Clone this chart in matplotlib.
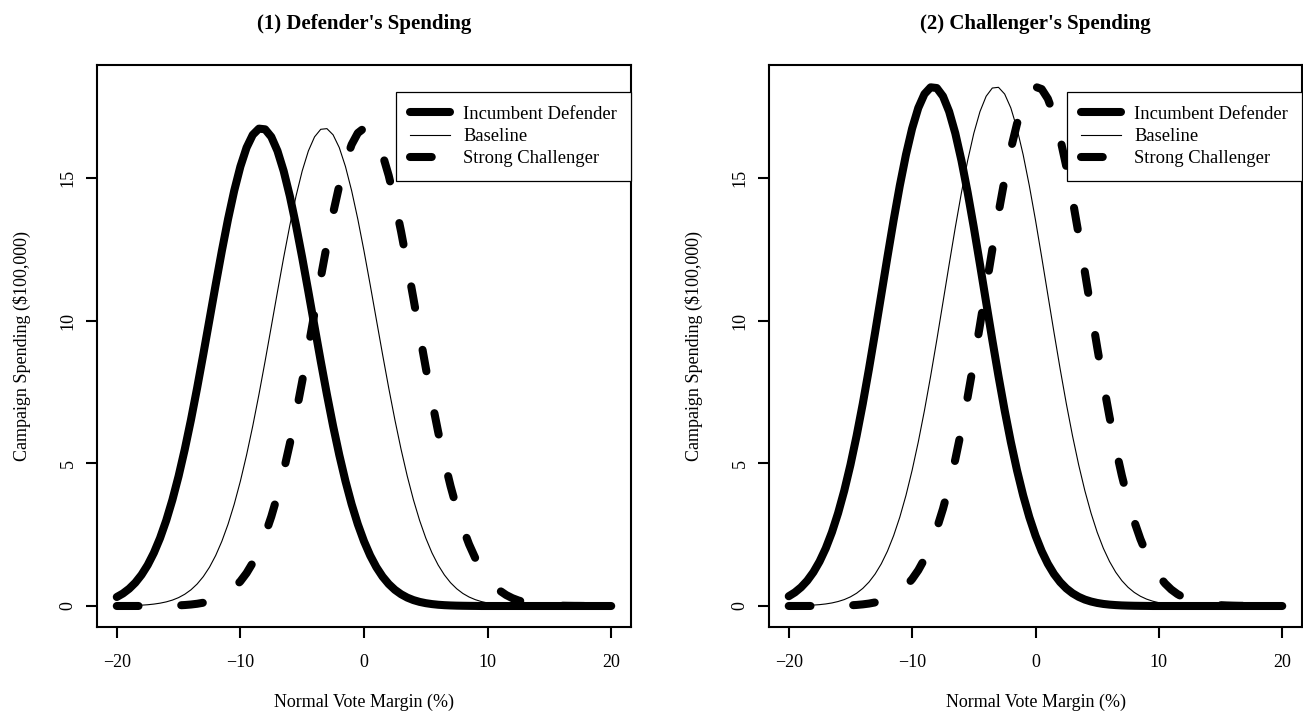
import matplotlib
matplotlib.use("Agg")
import matplotlib.pyplot as plt

plt.rcParams['font.family'] = ['Liberation Serif', 'DejaVu Serif']

# ---- data, x from -20 to 20 in steps of 0.5 ----
margin = [i / 2 for i in range(-40, 41)]

p1_incumbent = [0.315, 0.439, 0.604, 0.817, 1.091, 1.435, 1.861, 2.379, 2.997, 3.720,
                4.551, 5.489, 6.522, 7.641, 8.822, 10.038, 11.258, 12.443, 13.556, 14.554,
                15.402, 16.065, 16.513, 16.730, 16.706, 16.442, 15.948, 15.246, 14.365, 13.340,
                12.211, 11.015, 9.794, 8.581, 7.412, 6.308, 5.293, 4.377, 3.566, 2.864,
                2.268, 1.769, 1.360, 1.031, 0.770, 0.567, 0.412, 0.294, 0.207, 0.144,
                0.099, 0.067, 0.044, 0.029, 0.019, 0.012, 0.008, 0.005, 0.003,
                0, 0, 0, 0, 0, 0, 0, 0, 0, 0, 0, 0, 0, 0, 0, 0, 0, 0, 0, 0, 0, 0]
p1_baseline = [0.005, 0.007, 0.012, 0.019, 0.029, 0.044, 0.067, 0.099, 0.144, 0.207,
               0.294, 0.412, 0.567, 0.770, 1.031, 1.360, 1.769, 2.268, 2.864, 3.566,
               4.377, 5.293, 6.308, 7.412, 8.581, 9.794, 11.015, 12.211, 13.340, 14.365,
               15.246, 15.948, 16.442, 16.706, 16.730, 16.513, 16.065, 15.402, 14.554, 13.556,
               12.443, 11.258, 10.038, 8.822, 7.641, 6.522, 5.489, 4.551, 3.720, 2.997,
               2.379, 1.861, 1.435, 1.091, 0.817, 0.604, 0.439, 0.315, 0.223, 0.155,
               0.106, 0.072, 0.048, 0.032, 0.020, 0.013, 0.008, 0.005, 0.003,
               0, 0, 0, 0, 0, 0, 0, 0, 0, 0, 0, 0]
p1_challenger = [0.0001, 0.0002, 0.0004, 0.0007, 0.0012, 0.002, 0.0035, 0.006, 0.009, 0.014,
                 0.022, 0.034, 0.052, 0.078, 0.115, 0.167, 0.239, 0.337, 0.468, 0.642,
                 0.867, 1.154, 1.514, 1.956, 2.494, 3.132, 3.877, 4.730, 5.688, 6.740,
                 7.873, 9.063, 10.283, 11.499, 12.673, 13.765, 14.737, 15.551, 16.172, 16.576,
                 16.745, 16.672, 16.361, 15.824, 15.083, 14.171, 13.122, 11.975, 10.772, 9.549,
                 8.343, 7.186, 6.099, 5.100, 4.206, 3.417, 2.737, 2.161, 1.680, 1.288,
                 0.973, 0.725, 0.532, 0.385, 0.275, 0.193, 0.134, 0.091, 0.061, 0.041,
                 0.027, 0.017, 0.011, 0.007, 0.004, 0.003, 0, 0, 0, 0, 0]

p2_incumbent = [0.342, 0.477, 0.656, 0.888, 1.185, 1.560, 2.022, 2.584, 3.256, 4.042,
                4.945, 5.964, 7.087, 8.303, 9.586, 10.907, 12.232, 13.521, 14.729, 15.814,
                16.735, 17.456, 17.943, 18.178, 18.153, 17.865, 17.328, 16.566, 15.608, 14.494,
                13.268, 11.968, 10.642, 9.324, 8.054, 6.854, 5.751, 4.756, 3.875, 3.112,
                2.464, 1.922, 1.478, 1.120, 0.837, 0.616, 0.447, 0.320, 0.225, 0.157,
                0.107, 0.072, 0.048, 0.032, 0.020, 0.013, 0.008, 0.005, 0.003,
                0, 0, 0, 0, 0, 0, 0, 0, 0, 0, 0, 0, 0, 0, 0, 0, 0, 0, 0, 0, 0, 0]
p2_baseline = [0.005, 0.008, 0.013, 0.020, 0.032, 0.048, 0.072, 0.107, 0.157, 0.225,
               0.320, 0.447, 0.616, 0.837, 1.120, 1.478, 1.922, 2.464, 3.112, 3.875,
               4.756, 5.751, 6.854, 8.054, 9.324, 10.642, 11.968, 13.268, 14.494, 15.608,
               16.566, 17.328, 17.865, 18.153, 18.178, 17.943, 17.456, 16.735, 15.814, 14.729,
               13.521, 12.232, 10.907, 9.586, 8.303, 7.087, 5.964, 4.945, 4.042, 3.256,
               2.584, 2.022, 1.560, 1.185, 0.888, 0.656, 0.477, 0.342, 0.242, 0.169,
               0.116, 0.078, 0.052, 0.034, 0.022, 0.014, 0.009, 0.006, 0.003,
               0, 0, 0, 0, 0, 0, 0, 0, 0, 0, 0, 0]
p2_challenger = [0.0001, 0.0002, 0.0005, 0.0007, 0.0013, 0.002, 0.0037, 0.006, 0.010, 0.016,
                 0.024, 0.037, 0.057, 0.085, 0.125, 0.181, 0.260, 0.366, 0.509, 0.698,
                 0.942, 1.254, 1.645, 2.126, 2.710, 3.403, 4.213, 5.140, 6.181, 7.324,
                 8.554, 9.848, 11.173, 12.494, 13.770, 14.957, 16.012, 16.897, 17.572, 18.011,
                 18.195, 18.116, 17.778, 17.194, 16.389, 15.397, 14.258, 13.011, 11.704, 10.376,
                 9.065, 7.808, 6.627, 5.542, 4.570, 3.713, 2.974, 2.348, 1.825, 1.400,
                 1.058, 0.788, 0.578, 0.419, 0.298, 0.210, 0.145, 0.099, 0.067, 0.044,
                 0.029, 0.019, 0.012, 0.007, 0.005, 0.003, 0, 0, 0, 0, 0]

titles = ["(1) Defender's Spending", "(2) Challenger's Spending"]
series_names = ["Incumbent Defender", "Baseline", "Strong Challenger"]
x_ticks = [-20, -10, 0, 10, 20]
y_ticks = [0, 5, 10, 15]
x_label = "Normal Vote Margin (%)"
y_label = r"Campaign Spending (\$100,000)"

panels = [
    (titles[0], p1_incumbent, p1_baseline, p1_challenger),
    (titles[1], p2_incumbent, p2_baseline, p2_challenger),
]

# ---- layout ----
W, H = 1303, 717
fig = plt.figure(figsize=(W / 100, H / 100), dpi=100)
fig.patch.set_facecolor('white')
axes_px = [(97, 534), (769, 533)]
top_px, bot_px = 65, 627

THICK = 5.8
THIN = 0.8
FS = 13

for (left, width), (title, inc, base, chal) in zip(axes_px, panels):
    ax = fig.add_axes([left / W, 1 - bot_px / H, width / W, (bot_px - top_px) / H])
    ax.plot(margin, inc, color='black', lw=THICK, solid_capstyle='round',
            solid_joinstyle='round', label=series_names[0])
    ax.plot(margin, base, color='black', lw=THIN, label=series_names[1])
    ax.plot(margin, chal, color='black', lw=THICK, linestyle=(0, (2.7, 5.3)),
            dash_capstyle='round', dash_joinstyle='round', label=series_names[2])

    ax.set_xlim(-21.6, 21.6)
    ax.set_ylim(-0.736, 18.96)
    ax.set_xticks(x_ticks, labels=[f"{t}".replace('-', '\u2212') for t in x_ticks])
    ax.set_yticks(y_ticks, labels=[str(t) for t in y_ticks], rotation=90, va='center')
    ax.tick_params(axis='both', direction='out', length=8, width=1.5,
                   labelsize=FS, color='black')
    ax.tick_params(axis='x', pad=11.5)
    ax.tick_params(axis='y', pad=6.5)
    for sp in ax.spines.values():
        sp.set_linewidth(1.5)
        sp.set_color('black')

    ax.set_xlabel(x_label, fontsize=FS)
    ax.xaxis.set_label_coords(0.5, -0.118)
    ax.set_ylabel(y_label, fontsize=FS)
    ax.yaxis.set_label_coords(-0.1245, 0.5)

    fig.text((left + width / 2) / W, 1 - 24 / H, title, fontsize=15,
             fontweight='bold', ha='center', va='center')

    leg = ax.legend(loc='upper right', bbox_to_anchor=(1.0, (bot_px - 92) / (bot_px - top_px)),
                    borderaxespad=0, fontsize=13.4, frameon=True, fancybox=False,
                    edgecolor='black', framealpha=1, handlelength=2.15,
                    handletextpad=0.7, labelspacing=0.28, borderpad=0.75)
    leg.get_frame().set_linewidth(0.9)

fig.savefig("out.png", dpi=100, facecolor='white')
